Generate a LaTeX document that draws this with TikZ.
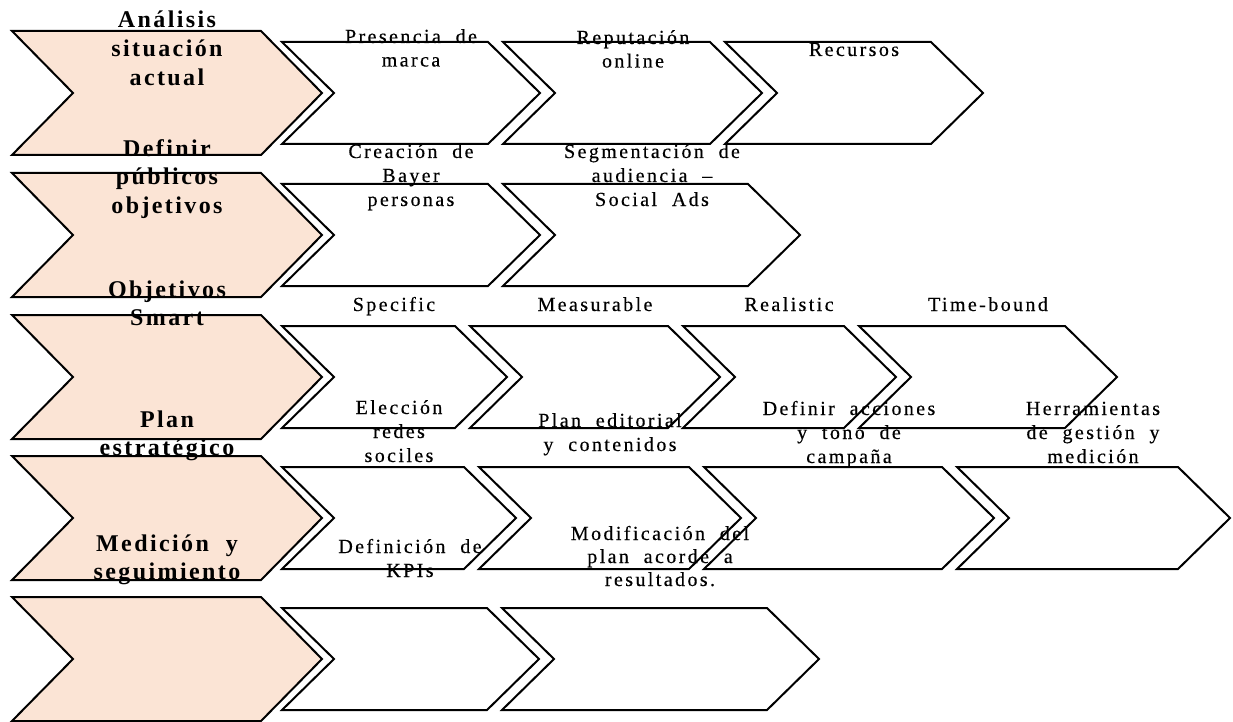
\documentclass[tikz,border=0pt]{standalone}
\usepackage{fontspec}
\setmainfont{Liberation Serif}
\newfontfamily\lsreg{Liberation Serif}[LetterSpace=12,FakeBold=0.4,WordSpace=2]
\newfontfamily\lsbold{Liberation Serif}[LetterSpace=10,WordSpace=2]
\definecolor{peach}{HTML}{FBE4D5}
% #1 style, #2 x-left, #3 x-tip, #4 y-mid, #5 half height, #6 depth
\newcommand\drawchev[6]{%
  \draw[#1] (#2,#4-#5) -- (#3-#6,#4-#5) -- (#3,#4) -- (#3-#6,#4+#5)
    -- (#2,#4+#5) -- (#2+#6,#4) -- cycle;}
\tikzset{
  bigchev/.style={draw=black, line width=2pt, fill=peach},
  smallchev/.style={draw=black, line width=2pt, fill=white},
  lbl/.style={anchor=base, inner sep=0pt, font=\lsreg\fontsize{20}{24}\selectfont},
  blbl/.style={anchor=base, inner sep=0pt, font=\lsbold\bfseries\fontsize{24}{28}\selectfont},
}
\begin{document}
\begin{tikzpicture}[x=1pt,y=-1pt]
\useasboundingbox (0,0) rectangle (1233,722);
% big chevrons
\drawchev{bigchev}{12}{322}{93}{62}{61}
\drawchev{bigchev}{12}{322}{235}{62}{61}
\drawchev{bigchev}{12}{322}{377}{62}{61}
\drawchev{bigchev}{12}{322}{518}{62}{61}
\drawchev{bigchev}{12}{322}{659}{62}{61}
% row 1
\drawchev{smallchev}{282}{540}{93}{51}{52}
\drawchev{smallchev}{503}{762}{93}{51}{52}
\drawchev{smallchev}{725}{983}{93}{51}{52}
% row 2
\drawchev{smallchev}{282}{540}{235}{51}{52}
\drawchev{smallchev}{503}{800}{235}{51}{52}
% row 3
\drawchev{smallchev}{282}{507}{377}{51}{52}
\drawchev{smallchev}{470}{720}{377}{51}{52}
\drawchev{smallchev}{683}{896}{377}{51}{52}
\drawchev{smallchev}{859}{1117}{377}{51}{52}
% row 4
\drawchev{smallchev}{282}{516}{518}{51}{52}
\drawchev{smallchev}{479}{741}{518}{51}{52}
\drawchev{smallchev}{704}{994}{518}{51}{52}
\drawchev{smallchev}{957}{1230}{518}{51}{52}
% row 5
\drawchev{smallchev}{282}{539}{659}{51}{52}
\drawchev{smallchev}{502}{819}{659}{51}{52}
% bold labels
\node[blbl] (b1a) at (167,28) {Análisis};
\node[blbl] (b1b) at (167,57) {situación};
\node[blbl] (b1c) at (167,85.5) {actual};
\node[blbl] (b2a) at (167,157) {Definir};
\node[blbl] (b2b) at (167,185) {públicos};
\node[blbl] (b2c) at (167,213) {objetivos};
\node[blbl] (b3a) at (167,297) {Objetivos};
\node[blbl] (b3b) at (167,325) {Smart};
\node[blbl] (b4a) at (167,427) {Plan};
\node[blbl] (b4b) at (167,455) {estratégico};
\node[blbl] (b5a) at (167,551) {Medición y};
\node[blbl] (b5b) at (167,579) {seguimiento};
% row 1 labels
\node[lbl] (r1a1) at (411,43) {Presencia de};
\node[lbl] (r1a2) at (411,66.5) {marca};
\node[lbl] (r1b1) at (633,44) {Reputación};
\node[lbl] (r1b2) at (633,67.5) {online};
\node[lbl] (r1c1) at (854,56) {Recursos};
% row 2 labels
\node[lbl] (r2a1) at (411,158) {Creación de};
\node[lbl] (r2a2) at (411,182) {Bayer};
\node[lbl] (r2a3) at (411,206) {personas};
\node[lbl] (r2b1) at (652,158) {Segmentación de};
\node[lbl] (r2b2) at (652,182) {audiencia –};
\node[lbl] (r2b3) at (652,206) {Social Ads};
% row 3 labels
\node[lbl] (r3a) at (394,311) {Specific};
\node[lbl] (r3b) at (595,311) {Measurable};
\node[lbl] (r3c) at (789,311) {Realistic};
\node[lbl] (r3d) at (988,311) {Time-bound};
% row 4 labels
\node[lbl] (r4a1) at (399,414) {Elección};
\node[lbl] (r4a2) at (399,438) {redes};
\node[lbl] (r4a3) at (399,462) {sociles};
\node[lbl] (r4b1) at (610,427) {Plan editorial};
\node[lbl] (r4b2) at (610,451) {y contenidos};
\node[lbl] (r4c1) at (849,415) {Definir acciones};
\node[lbl] (r4c2) at (849,439) {y tono de};
\node[lbl] (r4c3) at (849,463) {campaña};
\node[lbl] (r4d1) at (1093,415) {Herramientas};
\node[lbl] (r4d2) at (1093,439) {de gestión y};
\node[lbl] (r4d3) at (1093,463) {medición};
% row 5 labels
\node[lbl] (r5a1) at (410,553) {Definición de};
\node[lbl] (r5a2) at (410,577) {KPIs};
\node[lbl] (r5b1) at (660,540) {Modificación del};
\node[lbl] (r5b2) at (660,563) {plan acorde a};
\node[lbl] (r5b3) at (660,586) {resultados.};
\end{tikzpicture}
\end{document}
